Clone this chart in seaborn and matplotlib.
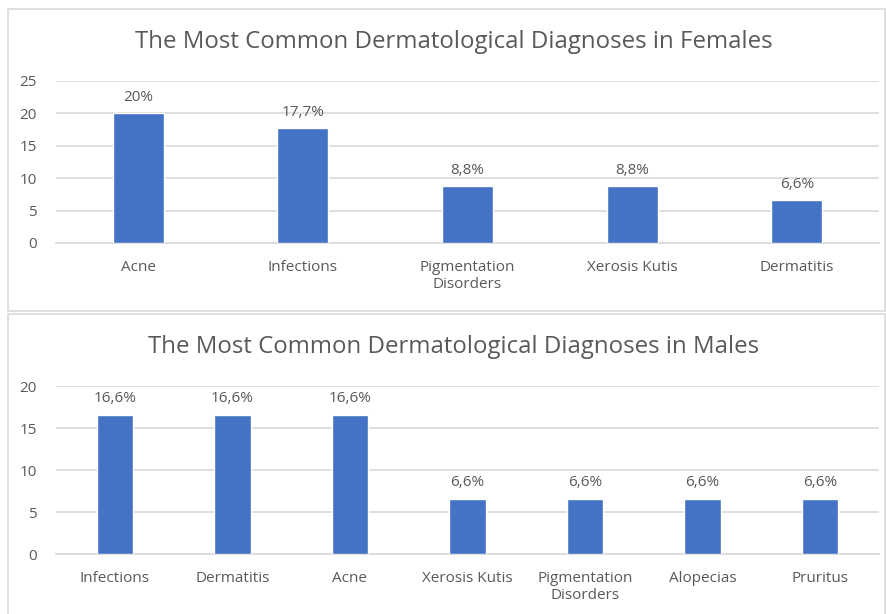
import pandas as pd
import seaborn as sns
import matplotlib.pyplot as plt
from matplotlib.patches import Rectangle

female_dx = ["Acne", "Infections", "Pigmentation\nDisorders", "Xerosis Kutis", "Dermatitis"]
female_pct = [20, 17.7, 8.8, 8.8, 6.6]
female_lbl = ["20%", "17,7%", "8,8%", "8,8%", "6,6%"]

male_dx = ["Infections", "Dermatitis", "Acne", "Xerosis Kutis",
           "Pigmentation\nDisorders", "Alopecias", "Pruritus"]
male_pct = [16.6, 16.6, 16.6, 6.6, 6.6, 6.6, 6.6]
male_lbl = ["16,6%", "16,6%", "16,6%", "6,6%", "6,6%", "6,6%", "6,6%"]

sns.set_style("white")
plt.rcParams["font.family"] = ["Open Sans", "DejaVu Sans"]

W, H = 887, 614
fig = plt.figure(figsize=(W / 100, H / 100), dpi=100)

txt = "#595959"
bar_c = "#4472C4"
grid_c = "#D9D9D9"


def px(x0, y0, x1, y1):
    # pixel box (top-left origin) -> figure fraction rect
    return [x0 / W, 1 - y1 / H, (x1 - x0) / W, (y1 - y0) / H]


# panel frames
for y0, y1 in [(9, 311), (314, 640)]:
    fig.patches.append(Rectangle((8 / W, 1 - y1 / H), (885 - 8) / W, (y1 - y0) / H,
                                 transform=fig.transFigure, fill=False,
                                 edgecolor="#D9D9D9", lw=1.2))


def panel(box, cats, vals, labels, ymax, title, title_y, pad):
    ax = fig.add_axes(px(*box))
    df = pd.DataFrame({"dx": cats, "pct": vals})
    sns.barplot(data=df, x="dx", y="pct", color=bar_c, width=0.31,
                saturation=1, ax=ax, zorder=3)
    ax.set_ylim(0, ymax)
    ax.set_yticks(range(0, ymax + 1, 5))
    ax.set_xlim(-0.5, len(cats) - 0.5)
    ax.yaxis.grid(True, color=grid_c, lw=1.2, zorder=0)
    ax.set_axisbelow(True)
    for s in ["top", "right", "left"]:
        ax.spines[s].set_visible(False)
    ax.spines["bottom"].set_color(grid_c)
    ax.spines["bottom"].set_linewidth(1.2)
    ax.tick_params(axis="both", length=0, labelsize=11, labelcolor=txt)
    ax.tick_params(axis="y", pad=14)
    ax.tick_params(axis="x", pad=12)
    ax.set_xlabel("")
    ax.set_ylabel("")
    for i, (v, l) in enumerate(zip(vals, labels)):
        ax.annotate(l, (i, v), xytext=(0, pad), textcoords="offset points",
                    ha="center", va="bottom", fontsize=11, color=txt)
    fig.text(0.5 * (8 + 900) / W, 1 - title_y / H, title, ha="center", va="center",
             fontsize=17.3, color=txt)
    return ax


panel((56, 81, 879, 243), female_dx, female_pct, female_lbl, 25,
      "The Most Common Dermatological Diagnoses in Females", 42, 6)
panel((56, 386, 879, 554), male_dx, male_pct, male_lbl, 20,
      "The Most Common Dermatological Diagnoses in Males", 347, 6)

fig.savefig("out.png", dpi=100)
